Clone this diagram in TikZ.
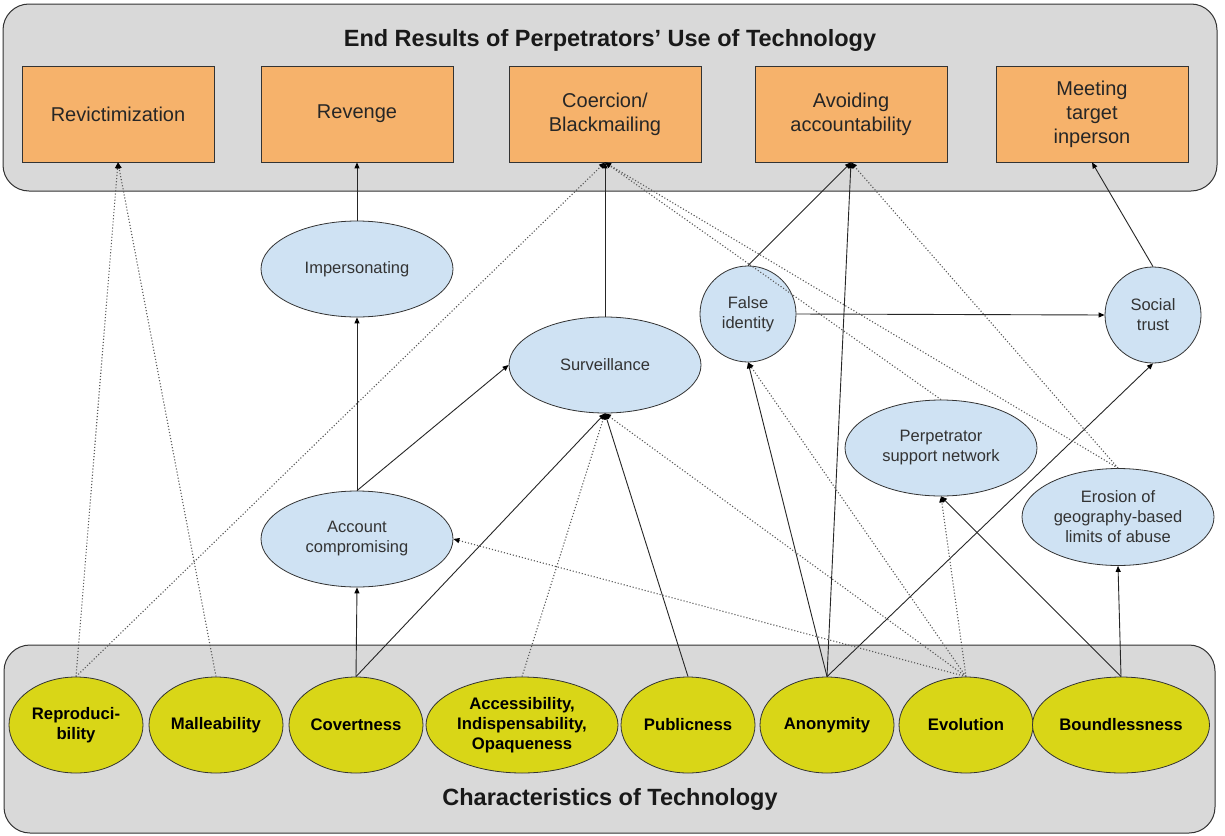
\documentclass[tikz,border=0pt]{standalone}
\usepackage{fontspec}
\setmainfont{Liberation Sans}
\usetikzlibrary{shapes.geometric,arrows.meta}
\definecolor{panelgray}{HTML}{D9D9D9}
\definecolor{orangebox}{HTML}{F6B26B}
\definecolor{bluebox}{HTML}{CFE2F3}
\definecolor{yellowbox}{HTML}{D9D617}
\definecolor{edgegray}{HTML}{333333}
\begin{document}
\begin{tikzpicture}[x=1pt,y=-1pt,
  panel/.style={draw=edgegray, line width=1pt, fill=panelgray, rounded corners=26pt, inner sep=0pt},
  paneltitle/.style={font=\bfseries\fontsize{23.5}{28}\selectfont, text=black!90, inner sep=0pt},
  result/.style={draw=edgegray, line width=0.8pt, fill=orangebox, minimum width=192pt, minimum height=96pt, inner sep=0pt, align=center, font=\fontsize{20}{24}\selectfont, text=black!85},
  mech/.style={ellipse, draw=edgegray, line width=0.8pt, fill=bluebox, inner sep=0pt, align=center, font=\fontsize{16.5}{20}\selectfont, text=black!80},
  trait/.style={ellipse, draw=edgegray, line width=0.8pt, fill=yellowbox, inner sep=0pt, align=center, font=\bfseries\fontsize{16.7}{20}\selectfont, minimum height=96pt},
  link/.style={draw=black!85, line width=0.9pt, -{Triangle[length=6pt,width=5pt,color=black]}},
  weak/.style={draw=black!65, line width=1.1pt, dash pattern=on 1.1pt off 2pt, -{Triangle[length=6pt,width=5pt,color=black]}}
]
\useasboundingbox (0,0) rectangle (1225,835);
\fill[white] (0,0) rectangle (1225,835);

% panels
\node[panel, minimum width=1214pt, minimum height=187pt] (toppanel) at (610,97.5) {};
\node[panel, minimum width=1211pt, minimum height=188pt] (botpanel) at (609.5,739) {};
\node[paneltitle] (toptitle) at (610,40) {End Results of Perpetrators’ Use of Technology};
\node[paneltitle] (bottitle) at (610,799) {Characteristics of Technology};

% end results
\node[result] (revic) at (118,114) {Revictimization};
\node[result] (revg) at (357,114) {Revenge};
\node[result] (coer) at (605,114) {Coercion/\\Blackmailing};
\node[result] (avoid) at (851,114) {Avoiding\\accountability};
\node[result] (meet) at (1092,114) {Meeting\\target\\inperson};

% mechanisms
\node[mech, minimum width=192pt, minimum height=96pt] (imp) at (357,269) {Impersonating};
\node[mech, minimum width=192pt, minimum height=96pt] (surv) at (605,365) {Surveillance};
\node[mech, minimum width=192pt, minimum height=96pt] (acc) at (357,539) {Account\\compromising};
\node[mech, minimum width=96pt, minimum height=96pt] (false) at (748,314) {False\\identity};
\node[mech, minimum width=96pt, minimum height=96pt] (social) at (1153,315) {Social\\trust};
\node[mech, minimum width=192pt, minimum height=96pt] (perp) at (941,448) {Perpetrator\\support network};
\node[mech, minimum width=192pt, minimum height=97pt] (eros) at (1118,517) {Erosion of\\geography-based\\limits of abuse};

% characteristics
\node[trait, minimum width=134pt] (repro) at (76,725) {Reproduci-\\bility};
\node[trait, minimum width=134pt] (mall) at (216,725) {Malleability};
\node[trait, minimum width=134pt] (cov) at (356,725) {Covertness};
\node[trait, minimum width=192pt] (accs) at (522,725) {Accessibility,\\Indispensability,\\Opaqueness};
\node[trait, minimum width=134pt] (pub) at (688,725) {Publicness};
\node[trait, minimum width=134pt] (anon) at (827,725) {Anonymity};
\node[trait, minimum width=134pt] (evol) at (966,725) {Evolution};
\node[trait, minimum width=177pt] (bound) at (1121,725) {Boundlessness};

% solid connectors
\draw[link] (imp.north) -- (revg.south);
\draw[link] (acc.north) -- (imp.south);
\draw[link] (acc.north) -- (surv.west);
\draw[link] (cov.north) -- (acc.south);
\draw[link] (cov.north) -- (surv.south);
\draw[link] (pub.north) -- (surv.south);
\draw[link] (surv.north) -- (coer.south);
\draw[link] (anon.north) -- (false.south);
\draw[link] (anon.north) -- (avoid.south);
\draw[link] (anon.north) -- (social.south);
\draw[link] (false.north) -- (avoid.south);
\draw[link] (false.east) -- (social.west);
\draw[link] (social.north) -- (meet.south);
\draw[link] (bound.north) -- (eros.south);
\draw[link] (bound.north) -- (perp.south);

% dotted connectors
\draw[weak] (repro.north) -- (revic.south);
\draw[weak] (mall.north) -- (revic.south);
\draw[weak] (repro.north) -- (coer.south);
\draw[weak] (accs.north) -- (surv.south);
\draw[weak] (evol.north) -- (acc.east);
\draw[weak] (evol.north) -- (surv.south);
\draw[weak] (evol.north) -- (false.south);
\draw[weak] (evol.north) -- (perp.south);
\draw[weak] (perp.north) -- (coer.south);
\draw[weak] (eros.north) -- (coer.south);
\draw[weak] (eros.north) -- (avoid.south);
\end{tikzpicture}
\end{document}
